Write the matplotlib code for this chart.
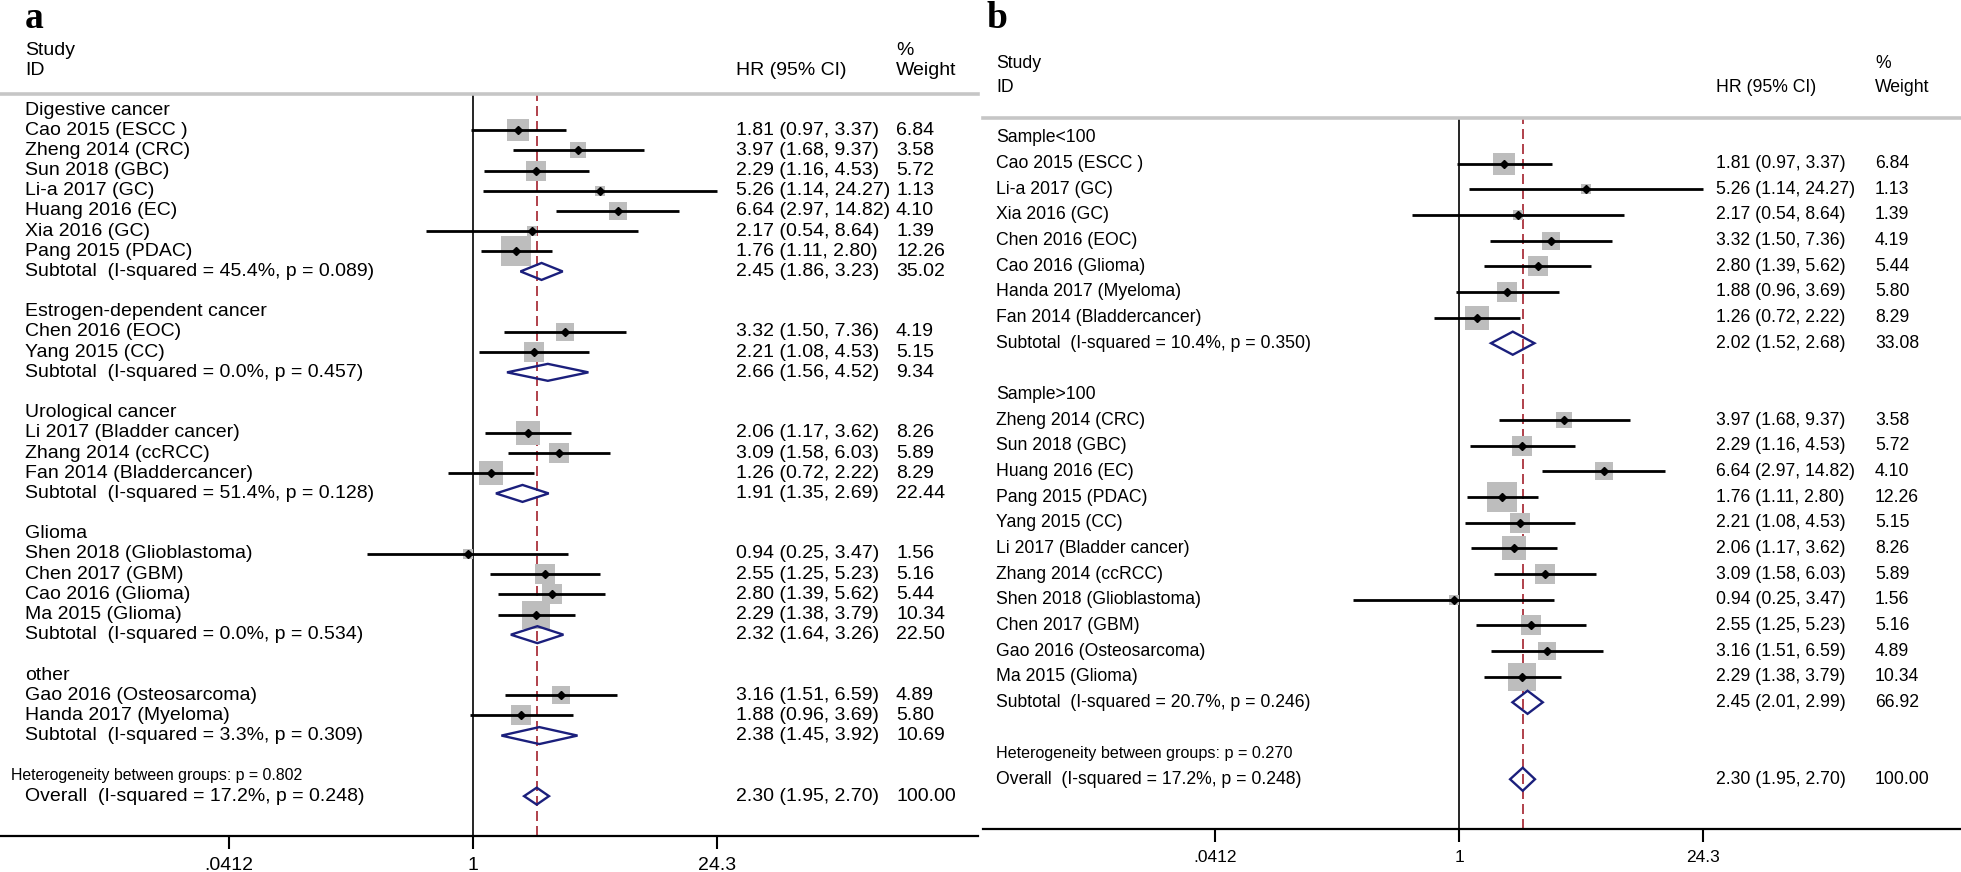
import numpy as np
import matplotlib
matplotlib.use("Agg")
import matplotlib.pyplot as plt
from matplotlib.patches import Polygon

plt.rcParams['font.family'] = ['Liberation Sans', 'DejaVu Sans']

nan = np.nan

# ---- panel a : subgroups by cancer type ----
a_labels = ["Digestive cancer", "Cao 2015 (ESCC )", "Zheng 2014 (CRC)", "Sun 2018 (GBC)",
            "Li-a 2017 (GC)", "Huang 2016 (EC)", "Xia 2016 (GC)", "Pang 2015 (PDAC)",
            "Subtotal  (I-squared = 45.4%, p = 0.089)", "",
            "Estrogen-dependent cancer", "Chen 2016 (EOC)", "Yang 2015 (CC)",
            "Subtotal  (I-squared = 0.0%, p = 0.457)", "",
            "Urological cancer", "Li 2017 (Bladder cancer)", "Zhang 2014 (ccRCC)",
            "Fan 2014 (Bladdercancer)", "Subtotal  (I-squared = 51.4%, p = 0.128)", "",
            "Glioma", "Shen 2018 (Glioblastoma)", "Chen 2017 (GBM)", "Cao 2016 (Glioma)",
            "Ma 2015 (Glioma)", "Subtotal  (I-squared = 0.0%, p = 0.534)", "",
            "other", "Gao 2016 (Osteosarcoma)", "Handa 2017 (Myeloma)",
            "Subtotal  (I-squared = 3.3%, p = 0.309)", "",
            "Heterogeneity between groups: p = 0.802",
            "Overall  (I-squared = 17.2%, p = 0.248)"]
a_kind = "h s s s s s s s d _ h s s d _ h s s s d _ h s s s s d _ h s s d _ e o".split()
a_hr = [nan, 1.81, 3.97, 2.29, 5.26, 6.64, 2.17, 1.76, 2.45, nan,
        nan, 3.32, 2.21, 2.66, nan,
        nan, 2.06, 3.09, 1.26, 1.91, nan,
        nan, 0.94, 2.55, 2.80, 2.29, 2.32, nan,
        nan, 3.16, 1.88, 2.38, nan, nan, 2.30]
a_lo = [nan, 0.97, 1.68, 1.16, 1.14, 2.97, 0.54, 1.11, 1.86, nan,
        nan, 1.50, 1.08, 1.56, nan,
        nan, 1.17, 1.58, 0.72, 1.35, nan,
        nan, 0.25, 1.25, 1.39, 1.38, 1.64, nan,
        nan, 1.51, 0.96, 1.45, nan, nan, 1.95]
a_hi = [nan, 3.37, 9.37, 4.53, 24.27, 14.82, 8.64, 2.80, 3.23, nan,
        nan, 7.36, 4.53, 4.52, nan,
        nan, 3.62, 6.03, 2.22, 2.69, nan,
        nan, 3.47, 5.23, 5.62, 3.79, 3.26, nan,
        nan, 6.59, 3.69, 3.92, nan, nan, 2.70]
a_wt = [nan, 6.84, 3.58, 5.72, 1.13, 4.10, 1.39, 12.26, 35.02, nan,
        nan, 4.19, 5.15, 9.34, nan,
        nan, 8.26, 5.89, 8.29, 22.44, nan,
        nan, 1.56, 5.16, 5.44, 10.34, 22.50, nan,
        nan, 4.89, 5.80, 10.69, nan, nan, 100.00]

# ---- panel b : subgroups by sample size ----
b_labels = ["Sample<100", "Cao 2015 (ESCC )", "Li-a 2017 (GC)", "Xia 2016 (GC)",
            "Chen 2016 (EOC)", "Cao 2016 (Glioma)", "Handa 2017 (Myeloma)",
            "Fan 2014 (Bladdercancer)", "Subtotal  (I-squared = 10.4%, p = 0.350)", "",
            "Sample>100", "Zheng 2014 (CRC)", "Sun 2018 (GBC)", "Huang 2016 (EC)",
            "Pang 2015 (PDAC)", "Yang 2015 (CC)", "Li 2017 (Bladder cancer)",
            "Zhang 2014 (ccRCC)", "Shen 2018 (Glioblastoma)", "Chen 2017 (GBM)",
            "Gao 2016 (Osteosarcoma)", "Ma 2015 (Glioma)",
            "Subtotal  (I-squared = 20.7%, p = 0.246)", "",
            "Heterogeneity between groups: p = 0.270",
            "Overall  (I-squared = 17.2%, p = 0.248)"]
b_kind = "h s s s s s s s d _ h s s s s s s s s s s s d _ e o".split()
b_hr = [nan, 1.81, 5.26, 2.17, 3.32, 2.80, 1.88, 1.26, 2.02, nan,
        nan, 3.97, 2.29, 6.64, 1.76, 2.21, 2.06, 3.09, 0.94, 2.55, 3.16, 2.29, 2.45,
        nan, nan, 2.30]
b_lo = [nan, 0.97, 1.14, 0.54, 1.50, 1.39, 0.96, 0.72, 1.52, nan,
        nan, 1.68, 1.16, 2.97, 1.11, 1.08, 1.17, 1.58, 0.25, 1.25, 1.51, 1.38, 2.01,
        nan, nan, 1.95]
b_hi = [nan, 3.37, 24.27, 8.64, 7.36, 5.62, 3.69, 2.22, 2.68, nan,
        nan, 9.37, 4.53, 14.82, 2.80, 4.53, 3.62, 6.03, 3.47, 5.23, 6.59, 3.79, 2.99,
        nan, nan, 2.70]
b_wt = [nan, 6.84, 1.13, 1.39, 4.19, 5.44, 5.80, 8.29, 33.08, nan,
        nan, 3.58, 5.72, 4.10, 12.26, 5.15, 8.26, 5.89, 1.56, 5.16, 4.89, 10.34, 66.92,
        nan, nan, 100.00]

overall_hr = 2.30
tick_vals = [0.0412, 1, 24.3]
tick_labels = [".0412", "1", "24.3"]

W, H = 1961, 872
fig = plt.figure(figsize=(W / 100, H / 100), dpi=100)
fig.patch.set_facecolor("white")

GREY_BOX = "#bdbdbd"
NAVY = "#1b1f7c"
RED = "#a3202c"


def panel(rect, labels, kind, hr, lo, hi, wt, xlim, ylim, fs, het_fs, tick_fs,
          half_h, x_study, x_het, x_hr, x_wt, head_rows):
    ax = fig.add_axes(rect)
    ax.set_xscale("log")
    ax.set_xlim(*xlim)
    ax.set_ylim(*ylim)
    tr = ax.get_yaxis_transform()

    ax.axvline(1, color="black", lw=1.2, zorder=1)
    ax.axvline(overall_hr, color=RED, lw=1.2, dashes=(6, 3), zorder=1)

    for i, k in enumerate(kind):
        if k == "e":
            ax.text(x_het, i, labels[i], transform=tr, fontsize=het_fs, va="center")
        elif labels[i]:
            ax.text(x_study, i, labels[i], transform=tr, fontsize=fs, va="center")
        if k == "s":
            ax.scatter([hr[i]], [i], s=38.0 * wt[i], marker="s", color=GREY_BOX,
                       linewidths=0, zorder=2)
            ax.plot([lo[i], hi[i]], [i, i], color="black", lw=2.0, zorder=3,
                    solid_capstyle="butt")
            ax.plot([hr[i]], [i], marker="D", color="black", ms=4.5, zorder=4)
        if k in ("d", "o"):
            ax.add_patch(Polygon([(lo[i], i), (hr[i], i - half_h), (hi[i], i),
                                  (hr[i], i + half_h)], closed=True, fill=False,
                                 edgecolor=NAVY, lw=1.7, zorder=3))
        if k in ("s", "d", "o"):
            ax.text(x_hr, i, "%.2f (%.2f, %.2f)" % (hr[i], lo[i], hi[i]),
                    transform=tr, fontsize=fs, va="center")
            ax.text(x_wt, i, "%.2f" % wt[i], transform=tr, fontsize=fs, va="center")

    r1, r2 = head_rows
    ax.text(x_study, r1, "Study", transform=tr, fontsize=fs, va="center")
    ax.text(x_study, r2, "ID", transform=tr, fontsize=fs, va="center")
    ax.text(x_hr, r2, "HR (95% CI)", transform=tr, fontsize=fs, va="center")
    ax.text(x_wt, r1, "%", transform=tr, fontsize=fs, va="center")
    ax.text(x_wt, r2, "Weight", transform=tr, fontsize=fs, va="center")

    for s in ("left", "right"):
        ax.spines[s].set_visible(False)
    ax.spines["top"].set_color("#c6c6c6")
    ax.spines["top"].set_linewidth(2.6)
    ax.spines["bottom"].set_linewidth(1.6)
    ax.set_yticks([])
    ax.set_xticks(tick_vals)
    ax.set_xticklabels(tick_labels)
    ax.minorticks_off()
    ax.tick_params(axis="x", which="both", length=9, width=1.5, pad=6,
                   labelsize=tick_fs)
    return ax


a_x0, a_x1, a_one = 0, 978, 473
b_x0, b_x1, b_one = 983, 1961, 1459
ppu = 76.5  # pixels per ln unit

panel([a_x0 / W, 1 - 836 / H, (a_x1 - a_x0) / W, (836 - 94) / H],
      a_labels, a_kind, a_hr, a_lo, a_hi, a_wt,
      (np.exp((a_x0 - a_one) / ppu), np.exp((a_x1 - a_one) / ppu)),
      ((836 - 110) / 20.18, (94 - 110) / 20.18),
      14, 11.4, 14, 0.42,
      25 / 978, 11 / 978, 736 / 978, 896 / 978, (-2.97, -1.98))

panel([b_x0 / W, 1 - 829 / H, (b_x1 - b_x0) / W, (829 - 118) / H],
      b_labels, b_kind, b_hr, b_lo, b_hi, b_wt,
      (np.exp((b_x0 - b_one) / ppu), np.exp((b_x1 - b_one) / ppu)),
      ((829 - 138) / 25.65, (118 - 138) / 25.65),
      12.7, 11.6, 12.5, 0.45,
      13 / 978, 13 / 978, 733 / 978, 892 / 978, (-2.92, -1.95))

fig.text(25 / W, 1 - 28 / H, "a", fontsize=27, fontweight="bold",
         family=["Liberation Serif", "DejaVu Serif"], va="baseline")
fig.text(986 / W, 1 - 28 / H, "b", fontsize=27, fontweight="bold",
         family=["Liberation Serif", "DejaVu Serif"], va="baseline")

fig.savefig("out.png", dpi=100)
